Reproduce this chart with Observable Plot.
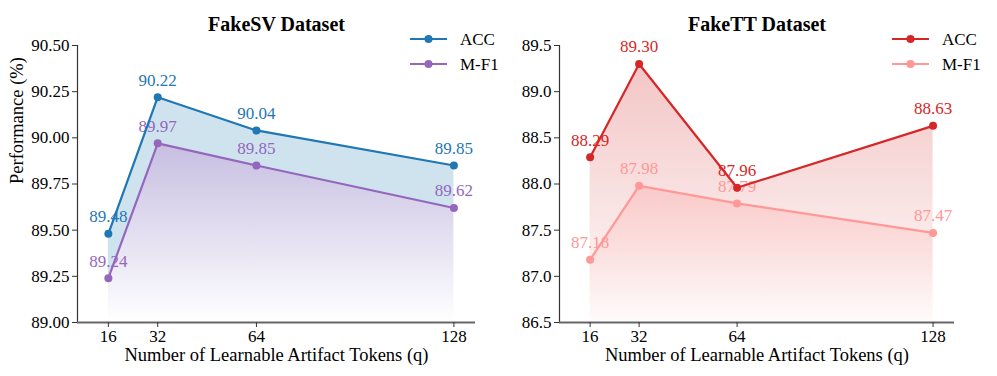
<!DOCTYPE html>
<html>
<head>
<meta charset="utf-8">
<script src="https://cdn.jsdelivr.net/npm/d3@7"></script>
<script src="https://cdn.jsdelivr.net/npm/@observablehq/plot@0.6"></script>
<style>
  body { margin: 0; background: #fff; font-family: "Liberation Serif", "Times New Roman", serif; }
  #wrap { display: flex; width: 997px; height: 376px; }
  .panel { position: relative; }
  .legend { position: absolute; }
</style>
</head>
<body>
<div id="wrap"></div>
<script>
// ---- data ----
const tokens = [16, 32, 64, 128];
const svAcc = [89.48, 90.22, 90.04, 89.85];
const svF1 = [89.24, 89.97, 89.85, 89.62];
const ttAcc = [88.29, 89.30, 87.96, 88.63];
const ttF1 = [87.18, 87.98, 87.79, 87.47];
const svYTicks = [89.00, 89.25, 89.50, 89.75, 90.00, 90.25, 90.50];
const ttYTicks = [86.5, 87.0, 87.5, 88.0, 88.5, 89.0, 89.5];
const seriesNames = ["ACC", "M-F1"];
const titles = ["FakeSV Dataset", "FakeTT Dataset"];
const xLabel = "Number of Learnable Artifact Tokens (q)";
const yLabel = "Performance (%)";

const FONT = "Liberation Serif, Times New Roman, serif";
const xDomain = [6, 135];

function panel(cfg) {
  const rows = tokens.map((q, i) => ({q, acc: cfg.acc[i], f1: cfg.f1[i]}));
  const yMin = cfg.yTicks[0];
  const yMax = cfg.yTicks[cfg.yTicks.length - 1];
  const defs = () => {
    const d = d3.create("svg:defs");
    for (const g of cfg.grads) {
      const lg = d.append("linearGradient").attr("id", g.id)
        .attr("x1", 0).attr("y1", 0).attr("x2", 0).attr("y2", 1);
      lg.append("stop").attr("offset", "0%").attr("stop-color", g.color).attr("stop-opacity", g.top);
      lg.append("stop").attr("offset", "100%").attr("stop-color", g.color).attr("stop-opacity", g.bottom);
    }
    return d.node();
  };
  const marks = [defs, ...cfg.areas(rows, yMin)];
  marks.push(
    Plot.ruleX([xDomain[0]], {stroke: "#333", strokeWidth: 1.2}),
    Plot.ruleY([yMin], {stroke: "#666", strokeWidth: 1.8}),
    Plot.axisY(cfg.yTicks, {tickSize: 5, tickPadding: 3, tickFormat: cfg.fmt, fontSize: 17, fontFamily: FONT, label: null, stroke: "#333"}),
    Plot.axisX(tokens, {tickSize: 5, tickPadding: 2, fontSize: 17, fontFamily: FONT, label: null, stroke: "#333"}),
    Plot.text(rows, {x: "q", y: "acc", text: d => cfg.labFmt(d.acc), fill: cfg.c1, dy: -17, fontSize: 17, fontFamily: FONT}),
    Plot.text(rows, {x: "q", y: "f1", text: d => cfg.labFmt(d.f1), fill: cfg.c2, dy: -17, fontSize: 17, fontFamily: FONT}),
    Plot.line(rows, {x: "q", y: "f1", stroke: cfg.c2, strokeWidth: 2.2}),
    Plot.dot(rows, {x: "q", y: "f1", fill: cfg.c2, r: 4}),
    Plot.line(rows, {x: "q", y: "acc", stroke: cfg.c1, strokeWidth: 2.2}),
    Plot.dot(rows, {x: "q", y: "acc", fill: cfg.c1, r: 4}),
    Plot.text([cfg.title], {frameAnchor: "top", dy: -29, fontSize: 20, fontWeight: "bold", fill: "#000", fontFamily: FONT}),
    Plot.text([xLabel], {frameAnchor: "bottom", dy: 38, fontSize: 18.5, fill: "#000", fontFamily: FONT})
  );
  if (cfg.showYLabel) {
    marks.push(Plot.text([yLabel], {frameAnchor: "left", dx: -60, rotate: -90, fontSize: 18.5, fill: "#000", fontFamily: FONT}));
  }
  const svg = Plot.plot({
    width: cfg.width, height: 376,
    marginLeft: cfg.ml, marginRight: cfg.mr, marginTop: 45, marginBottom: 54,
    style: {fontFamily: FONT, fontSize: "17px", color: "#000", background: "transparent", overflow: "visible"},
    x: {type: "linear", domain: xDomain, axis: null},
    y: {domain: [yMin, yMax], axis: null},
    marks
  });
  const div = document.createElement("div");
  div.className = "panel";
  div.style.width = cfg.width + "px";
  div.appendChild(svg);
  // legend
  const leg = d3.create("svg").attr("class", "legend").attr("width", 110).attr("height", 60)
    .style("left", cfg.legX + "px").style("top", "24px");
  [cfg.c1, cfg.c2].forEach((c, i) => {
    const y = 15 + i * 25;
    leg.append("line").attr("x1", 0).attr("x2", 37).attr("y1", y).attr("y2", y).attr("stroke", c).attr("stroke-width", 2.2);
    leg.append("circle").attr("cx", 18.5).attr("cy", y).attr("r", 4).attr("fill", c);
    leg.append("text").attr("x", 50).attr("y", y).attr("dy", "0.35em").attr("font-family", FONT).attr("font-size", 17).text(seriesNames[i]);
  });
  div.appendChild(leg.node());
  return div;
}

const wrap = document.getElementById("wrap");

wrap.appendChild(panel({
  title: titles[0], acc: svAcc, f1: svF1, yTicks: svYTicks,
  fmt: d3.format(".2f"), labFmt: d3.format(".2f"),
  c1: "#1f77b4", c2: "#9467bd",
  width: 497, ml: 77, mr: 22, legX: 410, showYLabel: true,
  grads: [{id: "gSvF1", color: "#8e7cc3", top: 0.5, bottom: 0.0}],
  areas: (rows, yMin) => [
    Plot.areaY(rows, {x: "q", y1: "f1", y2: "acc", fill: "#cfe3ef"}),
    Plot.areaY(rows, {x: "q", y1: yMin, y2: "f1", fill: "url(#gSvF1)"})
  ]
}));

wrap.appendChild(panel({
  title: titles[1], acc: ttAcc, f1: ttF1, yTicks: ttYTicks,
  fmt: d3.format(".1f"), labFmt: d3.format(".2f"),
  c1: "#d62728", c2: "#ff9896",
  width: 500, ml: 62, mr: 43, legX: 395, showYLabel: false,
  grads: [{id: "gTtAcc", color: "#e06666", top: 0.38, bottom: 0.02},
          {id: "gTtF1", color: "#ff8a88", top: 0.25, bottom: 0.0}],
  areas: (rows, yMin) => [
    Plot.areaY(rows, {x: "q", y1: yMin, y2: "acc", fill: "url(#gTtAcc)"}),
    Plot.areaY(rows, {x: "q", y1: yMin, y2: "f1", fill: "url(#gTtF1)"})
  ]
}));
</script>
</body>
</html>
